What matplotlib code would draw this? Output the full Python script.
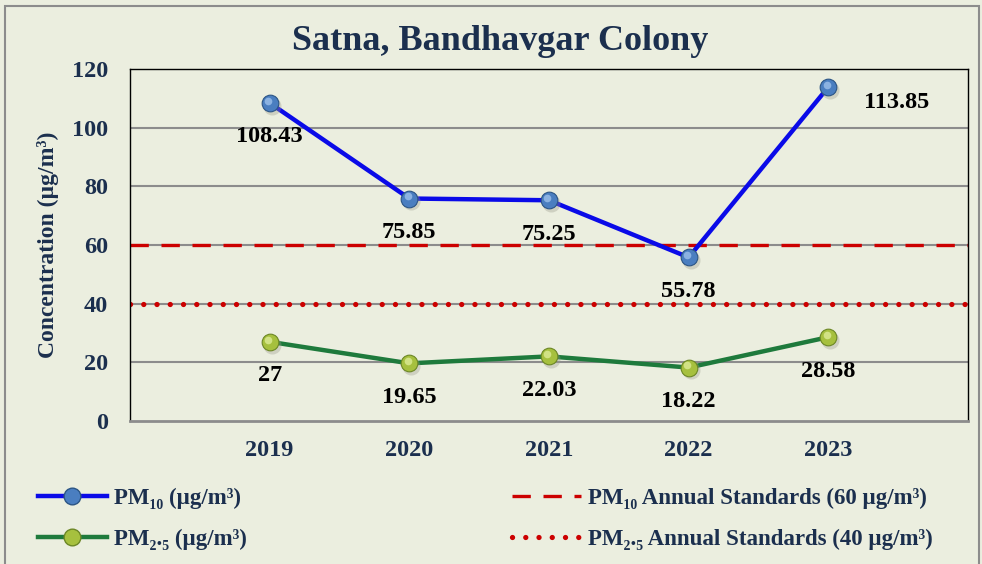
import matplotlib.pyplot as plt
from matplotlib.lines import Line2D
from matplotlib.patches import Rectangle
from matplotlib.transforms import offset_copy

# data
years = ['2019', '2020', '2021', '2022', '2023']
pm10 = [108.43, 75.85, 75.25, 55.78, 113.85]
pm25 = [27, 19.65, 22.03, 18.22, 28.58]
pm10_labels = ['108.43', '75.85', '75.25', '55.78', '113.85']
pm25_labels = ['27', '19.65', '22.03', '18.22', '28.58']
pm10_std = 60
pm25_std = 40
y_ticks = [0, 20, 40, 60, 80, 100, 120]

serif = ['Liberation Serif', 'DejaVu Serif']
navy = '#1B2F4E'
bg = '#EBEEDF'

fig = plt.figure(figsize=(9.82, 5.64), dpi=100, facecolor=bg)
ax = fig.add_axes([130 / 982, 1 - 421 / 564, 838 / 982, 352 / 564])
ax.set_facecolor(bg)

x = list(range(1, len(years) + 1))
ax.set_xlim(0, 6)
ax.set_ylim(0, 120)

# grid and frame
for v in y_ticks[1:-1]:
    ax.axhline(v, color='#8C8C8C', lw=1.5, zorder=1)
for s in ['top', 'left', 'right']:
    ax.spines[s].set_color('black')
    ax.spines[s].set_linewidth(1.0)
ax.spines['bottom'].set_color('#8C8C8C')
ax.spines['bottom'].set_linewidth(2.0)

# standards
ax.axhline(pm10_std, color='#CC0000', lw=2.4, dashes=(5.5, 3.8), zorder=2)
ax.axhline(pm25_std, color='#CC0000', lw=3.8, dashes=(0.01, 2.5),
           dash_capstyle='round', zorder=2)


def sphere_line(xs, ys, line_col, base, edge, light):
    ax.plot(xs, ys, color=line_col, lw=3.2, zorder=3)
    shadow = offset_copy(ax.transData, fig=fig, x=1.5, y=-2, units='points')
    ax.plot(xs, ys, ls='none', marker='o', ms=13, color='#9A9A8A', alpha=0.35,
            mec='none', transform=shadow, zorder=3)
    ax.plot(xs, ys, ls='none', marker='o', ms=12, mfc=base, mec=edge, mew=0.8,
            zorder=4)
    hl = offset_copy(ax.transData, fig=fig, x=-1.3, y=1.6, units='points')
    ax.plot(xs, ys, ls='none', marker='o', ms=5.5, mfc=light, mec='none',
            alpha=0.8, transform=hl, zorder=5)


sphere_line(x, pm10, '#0A0AE8', '#4A7EC0', '#2C5585', '#9CC0EA')
sphere_line(x, pm25, '#1E7A3C', '#A6C03E', '#6C8726', '#DDEB97')

# data labels
for i, (v, t) in enumerate(zip(pm10, pm10_labels)):
    off = (49, -11) if i == len(pm10) - 1 else (0, -24.5)
    ax.annotate(t, (x[i], v), xytext=off, textcoords='offset points',
                ha='center', va='center', fontsize=17.5, fontweight='bold',
                family=serif, color='black', zorder=6)
for i, (v, t) in enumerate(zip(pm25, pm25_labels)):
    ax.annotate(t, (x[i], v), xytext=(0, -24.5), textcoords='offset points',
                ha='center', va='center', fontsize=17.5, fontweight='bold',
                family=serif, color='black', zorder=6)

# ticks
ax.set_yticks(y_ticks)
ax.set_yticklabels([str(v) for v in y_ticks])
ax.set_xticks(x)
ax.set_xticklabels(years)
ax.tick_params(axis='both', length=0, labelsize=17.5, labelcolor=navy)
ax.tick_params(axis='y', pad=16)
ax.tick_params(axis='x', pad=14)
for lab in ax.get_xticklabels() + ax.get_yticklabels():
    lab.set_fontfamily(serif)
    lab.set_fontweight('bold')

ax.set_ylabel('Concentration (µg/m³)', fontsize=17, fontweight='bold',
              family=serif, color=navy, labelpad=9)
fig.text(0.509, 1 - 42 / 564, 'Satna, Bandhavgar Colony', ha='center',
         va='center', fontsize=26, fontweight='bold', family=serif, color=navy)

# legends
h10 = Line2D([], [], color='#0A0AE8', lw=3.2, marker='o', ms=12,
             mfc='#4A7EC0', mec='#2C5585')
h25 = Line2D([], [], color='#1E7A3C', lw=3.2, marker='o', ms=12,
             mfc='#A6C03E', mec='#6C8726')
hs10 = Line2D([], [], color='#CC0000', lw=2.4, dashes=(5.5, 3.8))
hs25 = Line2D([], [], color='#CC0000', lw=3.8, dashes=(0.01, 2.5),
              dash_capstyle='round')

leg_kw = dict(frameon=False, loc='center left', borderpad=0, borderaxespad=0,
              handlelength=3.0, handletextpad=0.3, labelspacing=0.85,
              prop={'family': serif, 'weight': 'bold', 'size': 16.5})
leg1 = fig.legend([h10, h25], ['PM₁₀ (µg/m³)', 'PM₂.₅ (µg/m³)'],
                  bbox_to_anchor=(38 / 982, 1 - 519 / 564), **leg_kw)
leg2 = fig.legend([hs10, hs25], ['PM₁₀ Annual Standards (60 µg/m³)',
                                 'PM₂.₅ Annual Standards (40 µg/m³)'],
                  bbox_to_anchor=(512 / 982, 1 - 519 / 564), **leg_kw)
for lg in (leg1, leg2):
    for t in lg.get_texts():
        t.set_color(navy)

# outer frame
fig.patches.append(Rectangle((5 / 982, -0.05), 974 / 982, 1.05 - 6 / 564,
                             transform=fig.transFigure, fill=False,
                             edgecolor='#8C8C8C', lw=1.5))

fig.savefig('out.png', dpi=100, facecolor=bg)
